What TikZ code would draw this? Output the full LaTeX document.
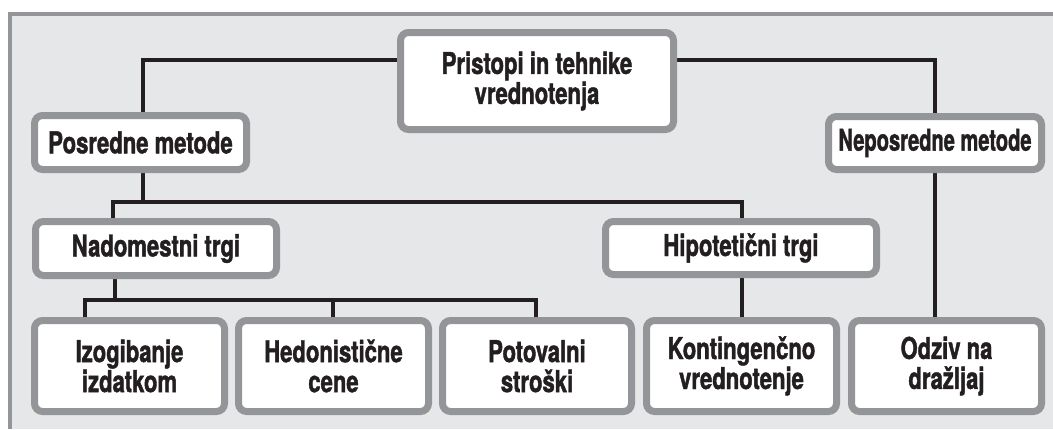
\documentclass[tikz,border=0pt]{standalone}
\usepackage{fontspec}
\setmainfont{TeX Gyre Heros}[FakeStretch=0.735, BoldFeatures={FakeBold=1.4}]
\pgfdeclarelayer{back}
\pgfdeclarelayer{bg}
\pgfsetlayers{back,bg,main}
\definecolor{panel}{HTML}{E6E7E8}
\definecolor{frame}{HTML}{939598}
\definecolor{ink}{HTML}{231F20}
\tikzset{
  box/.style={draw=frame, fill=white, line width=7pt, rounded corners=8pt,
    inner sep=0pt, align=center, text=ink,
    font=\fontsize{30}{30}\selectfont\bfseries},
  link/.style={draw=ink, line width=3.4pt}
}
\begin{document}
\begin{tikzpicture}[x=1pt,y=-1pt]
\useasboundingbox (0,0) rectangle (1053,429);
\begin{pgfonlayer}{back}
\fill[panel] (10,14) rectangle (1053,429);
\draw[frame, line width=4pt] (10,429) -- (10,14) -- (1053,14);
\end{pgfonlayer}
\node[box, minimum width=273pt, minimum height=97pt] (top) at (537,81) {Pristopi in tehnike\\vrednotenja};
\node[box, minimum width=212pt, minimum height=54pt] (pm) at (140.5,142.5) {Posredne metode};
\node[box, minimum width=213pt, minimum height=53pt] (nm) at (935,143) {\scalebox{0.91}[1]{Neposredne metode}};
\node[box, minimum width=241pt, minimum height=54pt] (nt) at (156,248.5) {Nadomestni trgi};
\node[box, minimum width=271pt, minimum height=53pt] (ht) at (741,248) {Hipotetični trgi};
\node[box, minimum width=190pt, minimum height=91pt] (iz) at (129.5,366) {Izogibanje\\izdatkom};
\node[box, minimum width=190pt, minimum height=91pt] (hc) at (333.5,366) {Hedonistične\\cene};
\node[box, minimum width=189pt, minimum height=91pt] (ps) at (537,366) {Potovalni\\stroški};
\node[box, minimum width=190pt, minimum height=91pt] (kv) at (741.5,366) {Kontingenčno\\vrednotenje};
\node[box, minimum width=190pt, minimum height=91pt] (od) at (946.5,366) {Odziv na\\dražljaj};
\coordinate (j1) at (143,60);
\coordinate (j2) at (935,60);
\coordinate (j3) at (143,202);
\coordinate (j4) at (113,202);
\coordinate (j5) at (742,202);
\coordinate (j6) at (115,300);
\coordinate (j7) at (85,300);
\coordinate (j8) at (333,300);
\coordinate (j9) at (536,300);
\begin{pgfonlayer}{bg}
\draw[link] (pm.north -| j1) -- (j1) -- (top.west |- j1);
\draw[link] (top.east |- j2) -- (j2) -- (nm.north);
\draw[link] (nm.south) -- (od.north -| nm.south);
\draw[link] (pm.south -| j3) -- (j3);
\draw[link] (nt.north -| j4) -- (j4) -- (j5) -- (ht.north -| j5);
\draw[link] (nt.south -| j6) -- (j6);
\draw[link] (iz.north -| j7) -- (j7) -- (j9) -- (ps.north -| j9);
\draw[link] (j8) -- (hc.north -| j8);
\draw[link] (ht.south -| j5) -- (kv.north -| j5);
\end{pgfonlayer}
\end{tikzpicture}
\end{document}
